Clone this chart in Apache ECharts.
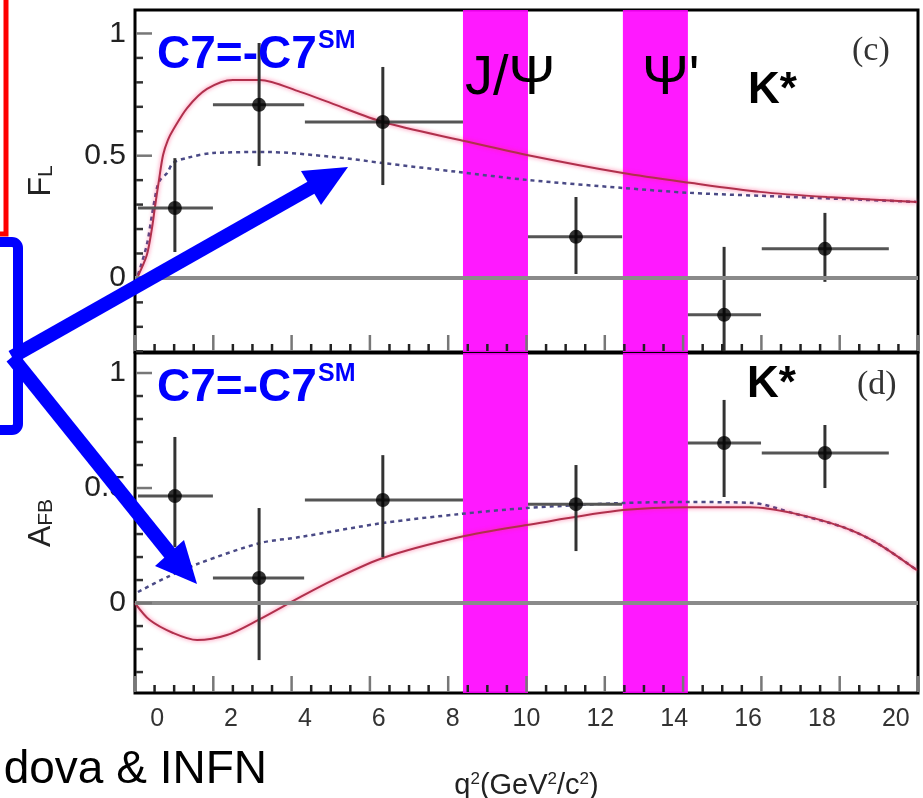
<!DOCTYPE html>
<html><head><meta charset="utf-8">
<script src="https://cdn.jsdelivr.net/npm/echarts@6/dist/echarts.min.js"></script>
<style>html,body{margin:0;padding:0;background:#fff}#c{width:923px;height:798px}</style>
</head><body><div id="c"></div>
<script>
// ---- tick labels and tick marks ----
const xTickLabels = [0, 2, 4, 6, 8, 10, 12, 14, 16, 18, 20];
const flTickLabels = [0, 0.5, 1];
const afbTickLabels = [0, 0.5, 1];
const flMinorTicks = [-0.3, -0.2, -0.1, 0.1, 0.2, 0.3, 0.4, 0.6, 0.7, 0.8, 0.9];
const afbMinorTicks = [-0.3, -0.2, -0.1, 0.1, 0.2, 0.3, 0.4, 0.6, 0.7, 0.8, 0.9];
// frame tick marks along q2 (frame divided in 10 major parts, 4 sub-parts each)
const frameMajor = [0, 1, 2, 3, 4, 5, 6, 7, 8, 9, 10];
const frameMinor = [0.25, 0.5, 0.75, 1.25, 1.5, 1.75, 2.25, 2.5, 2.75, 3.25, 3.5, 3.75, 4.25, 4.5, 4.75,
                    5.25, 5.5, 5.75, 6.25, 6.5, 6.75, 7.25, 7.5, 7.75, 8.25, 8.5, 8.75, 9.25, 9.5, 9.75];

// ---- vetoed charmonium regions ----
const jpsiBand = [8.28, 10.04];
const psi2Band = [12.61, 14.37];

// ---- binned measurements ----
const binX  = [0.48, 2.76, 6.11, 11.34, 15.35, 18.08];
const binLo = [-0.52, 1.51, 4.0, 10.04, 14.37, 16.37];
const binHi = [1.51, 3.98, 8.28, 12.59, 16.35, 19.81];
const flVal = [0.286, 0.708, 0.638, 0.168, -0.151, 0.119];
const flLo  = [0.106, 0.458, 0.380, 0.016, -0.300, -0.016];
const flHi  = [0.490, 0.961, 0.863, 0.331, 0.127, 0.266];
const afbVal = [0.465, 0.109, 0.448, 0.430, 0.696, 0.652];
const afbLo  = [0.243, -0.248, 0.200, 0.226, 0.461, 0.500];
const afbHi  = [0.722, 0.413, 0.643, 0.600, 0.883, 0.774];

// ---- theory curves: F_L ----
const flFlipX = [-0.52, -0.28, -0.14, -0.06, 0.05, 0.16, 0.29, 0.43, 0.81, 1.35, 2.05, 2.78, 3.87, 4.76, 6.11, 8.2, 10.01, 12.61, 14.43, 16.32, 18.14, 20.57];
const flFlipY = [0.008, 0.094, 0.204, 0.290, 0.401, 0.503, 0.564, 0.605, 0.695, 0.773, 0.810, 0.810, 0.761, 0.712, 0.638, 0.564, 0.503, 0.429, 0.389, 0.352, 0.331, 0.311];
const flSmX = [-0.52, -0.28, -0.14, 0.0, 0.08, 0.27, 0.43, 0.81, 1.51, 2.97, 4.76, 6.11, 8.12, 10.01, 12.61, 14.43, 17.21, 20.57];
const flSmY = [0.012, 0.135, 0.258, 0.372, 0.401, 0.429, 0.470, 0.491, 0.511, 0.515, 0.495, 0.470, 0.434, 0.401, 0.368, 0.348, 0.331, 0.311];

// ---- theory curves: A_FB ----
const afbFlipX = [-0.6, -0.2, 0.43, 1.08, 1.89, 2.73, 3.87, 4.76, 6.11, 8.2, 10.01, 12.61, 14.43, 16.05, 17.21, 18.57, 19.49, 20.57];
const afbFlipY = [0.0, -0.074, -0.130, -0.161, -0.139, -0.074, 0.026, 0.100, 0.196, 0.287, 0.339, 0.404, 0.417, 0.417, 0.391, 0.330, 0.261, 0.143];
const afbSmX = [-0.52, 0.27, 1.16, 2.79, 3.87, 6.11, 8.2, 10.01, 12.61, 14.43, 16.13, 17.21, 18.57, 19.49, 20.57];
const afbSmY = [0.048, 0.113, 0.174, 0.261, 0.287, 0.348, 0.387, 0.413, 0.435, 0.439, 0.435, 0.391, 0.330, 0.261, 0.143];

const X_MIN = -0.6, X_MAX = 20.6;
const FL_RANGE = [-0.303, 1.096], AFB_RANGE = [-0.391, 1.087];
const zip = (a, b) => a.map((v, i) => [v, b[i]]);
const errData = (val, lo, hi) => binX.map((x, i) => [x, val[i], binLo[i], binHi[i], lo[i], hi[i]]);

const FONT = '"Liberation Sans", Arial, sans-serif';

function errRender(params, api) {
  const x = api.value(0), y = api.value(1);
  const a = api.coord([api.value(2), y]), b = api.coord([api.value(3), y]);
  const c = api.coord([x, api.value(4)]), d = api.coord([x, api.value(5)]);
  return { type: 'group', children: [
    { type: 'line', shape: { x1: a[0], y1: a[1], x2: b[0], y2: b[1] }, style: { stroke: '#555', lineWidth: 3 } },
    { type: 'line', shape: { x1: c[0], y1: c[1], x2: d[0], y2: d[1] }, style: { stroke: '#333', lineWidth: 3 } }
  ]};
}

const redStyle = { color: '#b0304c', width: 2, shadowBlur: 4, shadowColor: 'rgba(255,40,110,0.7)' };
const dotStyle = { color: '#4a4a86', width: 2.5, type: [4, 4] };

function panelSeries(xi, yi, flipX, flipY, smX, smY, val, lo, hi) {
  return [
    { type: 'line', xAxisIndex: xi, yAxisIndex: yi, data: zip(smX, smY), smooth: 0.3, showSymbol: false, lineStyle: dotStyle, z: 3, silent: true },
    { type: 'line', xAxisIndex: xi, yAxisIndex: yi, data: zip(flipX, flipY), smooth: 0.3, showSymbol: false, lineStyle: redStyle, z: 3, silent: true,
      markLine: { silent: true, symbol: ['none', 'none'], label: { show: false }, lineStyle: { color: '#8a8a8a', width: 4, type: 'solid' }, data: [{ yAxis: 0 }] } },
    { type: 'custom', xAxisIndex: xi, yAxisIndex: yi, data: errData(val, lo, hi), renderItem: errRender, clip: true, z: 4, encode: { x: 0, y: 1 } },
    { type: 'scatter', xAxisIndex: xi, yAxisIndex: yi, data: zip(binX, val), symbolSize: 14, itemStyle: { color: '#000' }, z: 5 },
    { type: 'line', xAxisIndex: xi, yAxisIndex: yi, data: [[0, 0]], showSymbol: false, lineStyle: { opacity: 0 }, z: 8, silent: true,
      markArea: { silent: true, itemStyle: { color: '#ff00ff', opacity: 0.9 },
        data: [[{ xAxis: jpsiBand[0] }, { xAxis: jpsiBand[1] }], [{ xAxis: psi2Band[0] }, { xAxis: psi2Band[1] }]] } }
  ];
}

function mainX(gi, withLabels) {
  return { gridIndex: gi, type: 'value', min: X_MIN, max: X_MAX, position: 'bottom',
    axisLine: { show: false, onZero: false }, axisTick: { show: false }, splitLine: { show: false },
    axisLabel: withLabels ? { customValues: xTickLabels, fontSize: 25, color: '#333', margin: 14, fontFamily: FONT } : { show: false },
    ...(withLabels ? { name: '{m|q}{s|2}{m|(GeV}{s|2}{m|/c}{s|2}{m|)}', nameLocation: 'middle', nameGap: 78,
      nameTextStyle: { rich: { m: { fontSize: 29, fontFamily: FONT, color: '#222' }, s: { fontSize: 17, fontFamily: FONT, color: '#222', verticalAlign: 'top' } } } } : {})
  };
}
function mainY(gi, range, labels, name) {
  return { gridIndex: gi, type: 'value', min: range[0], max: range[1], position: 'left',
    axisLine: { show: false, onZero: false }, splitLine: { show: false }, axisTick: { show: false },
    axisLabel: { customValues: labels, fontSize: 30, color: '#222', margin: 9, fontFamily: FONT },
    name, nameLocation: 'middle', nameGap: 78, nameRotate: 90,
    nameTextStyle: { rich: { m: { fontSize: 32, fontFamily: FONT, color: '#222' }, s: { fontSize: 21, fontFamily: FONT, color: '#222', verticalAlign: 'bottom' } } } };
}

const txt = (x, y, text, font, fill, align) => ({ type: 'text', x, y, z: 100,
  style: { text, font, fill, align: align || 'left', verticalAlign: 'middle' } });

const G = (top, height) => ({ left: 135, right: 5, top, height, show: true, borderColor: '#000', borderWidth: 3, outerBoundsMode: 'none', containLabel: false });

const decorations = [
  { type: 'rect', z: 90, shape: { x: -30, y: -30, width: 36, height: 264 }, style: { fill: 'none', stroke: '#ff0000', lineWidth: 5 } },
  { type: 'rect', z: 90, shape: { x: -60, y: 242, width: 78, height: 188, r: 6 }, style: { fill: 'none', stroke: '#0000ff', lineWidth: 10 } },
  { type: 'line', z: 91, shape: { x1: 12, y1: 357, x2: 314, y2: 186 }, style: { stroke: '#0000ff', lineWidth: 14 } },
  { type: 'polygon', z: 91, shape: { points: [[348, 167], [301, 171], [321, 205]] }, style: { fill: '#0000ff' } },
  { type: 'line', z: 91, shape: { x1: 12, y1: 357, x2: 172, y2: 556 }, style: { stroke: '#0000ff', lineWidth: 14 } },
  { type: 'polygon', z: 91, shape: { points: [[197, 584], [155, 566], [184, 540]] }, style: { fill: '#0000ff' } },
  txt(157, 55, 'C7=-C7', 'bold 46px ' + FONT, '#0000ff'),
  txt(318, 41, 'SM', 'bold 25px ' + FONT, '#0000ff'),
  txt(157, 388, 'C7=-C7', 'bold 46px ' + FONT, '#0000ff'),
  txt(318, 374, 'SM', 'bold 25px ' + FONT, '#0000ff'),
  txt(465, 79, 'J/Ψ', '56px ' + FONT, '#000'),
  txt(642, 79, "Ψ'", '56px ' + FONT, '#000'),
  txt(748, 91, 'K*', 'bold 44px ' + FONT, '#000'),
  txt(747, 385, 'K*', 'bold 44px ' + FONT, '#000'),
  txt(852, 51, '(c)', '34px "Liberation Serif", serif', '#333'),
  txt(857, 385, '(d)', '34px "Liberation Serif", serif', '#333'),
  txt(267, 770, 'dova & INFN', '46px ' + FONT, '#000', 'right')
];

const option = {
  animation: false,
  backgroundColor: '#fff',
  grid: [G(10, 342), G(353, 340)],
  xAxis: [mainX(0, false), mainX(1, true)],
  yAxis: [
    mainY(0, FL_RANGE, flTickLabels, '{m|F}{s|L}'),
    mainY(1, AFB_RANGE, afbTickLabels, '{m|A}{s|FB}')
  ],
  series: [
    ...panelSeries(0, 0, flFlipX, flFlipY, flSmX, flSmY, flVal, flLo, flHi),
    ...panelSeries(1, 1, afbFlipX, afbFlipY, afbSmX, afbSmY, afbVal, afbLo, afbHi)
  ],
  graphic: decorations
};

const chart = echarts.init(document.getElementById('c'), null, { renderer: 'canvas' });
chart.setOption(option);

// Frame tick marks, placed through the chart's own scales (convertToPixel)
const ticks = [];
function frameXTicks(gi, yMin, values, len, color) {
  values.forEach(v => {
    const p = chart.convertToPixel({ gridIndex: gi }, [X_MIN + v * (X_MAX - X_MIN) / 10, yMin]);
    ticks.push({ type: 'line', z: 6, silent: true, shape: { x1: p[0], y1: p[1] - 1, x2: p[0], y2: p[1] - len }, style: { stroke: color, lineWidth: 2.5 } });
  });
}
function frameYTicks(gi, values, len, color) {
  values.forEach(v => {
    const p = chart.convertToPixel({ gridIndex: gi }, [X_MIN, v]);
    ticks.push({ type: 'line', z: 6, silent: true, shape: { x1: p[0] + 1, y1: p[1], x2: p[0] + len, y2: p[1] }, style: { stroke: color, lineWidth: 2.5 } });
  });
}
frameXTicks(0, FL_RANGE[0], frameMajor, 17, '#777');
frameXTicks(0, FL_RANGE[0], frameMinor, 8, '#222');
frameXTicks(1, AFB_RANGE[0], frameMajor, 17, '#777');
frameXTicks(1, AFB_RANGE[0], frameMinor, 8, '#222');
frameYTicks(0, flTickLabels, 17, '#777');
frameYTicks(0, flMinorTicks, 8, '#333');
frameYTicks(1, afbTickLabels, 17, '#777');
frameYTicks(1, afbMinorTicks, 8, '#333');

chart.setOption({ graphic: decorations.concat(ticks) });
</script>
</body></html>
